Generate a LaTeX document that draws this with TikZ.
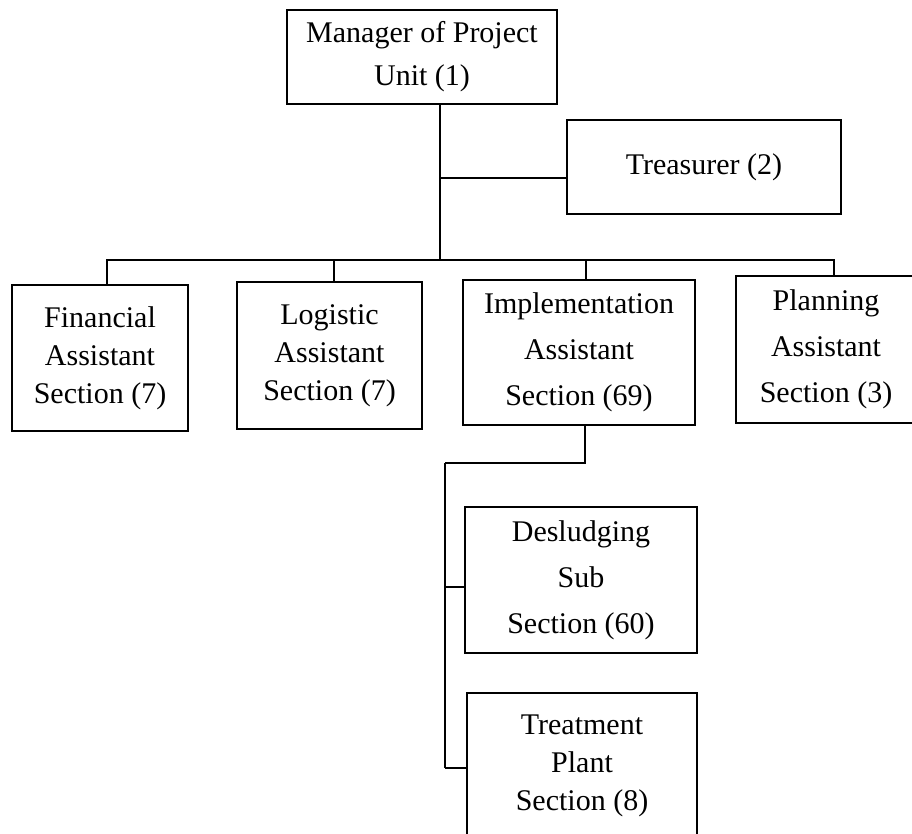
\documentclass[tikz,border=0pt]{standalone}
\usepackage{fontspec}
\setmainfont{Liberation Serif}
\begin{document}
\begin{tikzpicture}[x=1pt,y=-1pt,
  unit/.style={draw, line width=1.3pt, inner sep=0pt, align=center,
    font=\fontsize{30}{38}\selectfont},
  roomy/.style={font=\fontsize{30}{46}\selectfont},
  link/.style={line width=1.3pt},
  trunk/.style={line width=2.2pt}]
\clip (0,0) rectangle (912,833);
\fill[white] (0,0) rectangle (912,833);

% head of the unit and treasurer
\node[unit, minimum width=270pt, minimum height=94pt,
  font=\fontsize{30}{43}\selectfont] (mgr) at (422,57) {Manager of Project\\Unit (1)};
\node[unit, minimum width=274pt, minimum height=94pt] (treas) at (704,167) {Treasurer (2)};

% assistant sections
\node[unit, minimum width=176pt, minimum height=146pt] (fin) at (100,358)
  {Financial\\Assistant\\Section (7)};
\node[unit, minimum width=185pt, minimum height=147pt] (log) at (329.5,355.5)
  {Logistic\\Assistant\\Section (7)};
\node[unit, roomy, minimum width=232pt, minimum height=145pt] (impl) at (579,352.5)
  {Implementation\\Assistant\\Section (69)};
\node[unit, roomy, minimum width=180pt, minimum height=147pt] (plan) at (826,349.5)
  {Planning\\Assistant\\Section (3)};

% sub sections under implementation
\node[unit, roomy, minimum width=232pt, minimum height=146pt] (des) at (581,580)
  {Desludging\\Sub\\Section (60)};
\node[unit, minimum width=230pt, minimum height=146pt] (treat) at (582,766)
  {Treatment\\Plant\\Section (8)};

% junction points
\coordinate (bus) at (440,260);
\coordinate (tj) at (440,178);
\coordinate (sub) at (445,463);
\coordinate (subD) at (445,587);
\coordinate (subT) at (445,768);

% connectors
\draw[trunk] (mgr.south -| bus) -- (bus);
\draw[link] (tj) -- (tj -| treas.west);
\draw[link] ([xshift=7pt]fin.north) -- ([xshift=7pt]fin.north |- bus)
  -| ([xshift=8pt]plan.north);
\draw[link] ([xshift=4.5pt]log.north) -- ([xshift=4.5pt]log.north |- bus);
\draw[link] ([xshift=7pt]impl.north) -- ([xshift=7pt]impl.north |- bus);
\draw[link] ([xshift=6pt]impl.south) |- (sub);
\draw[trunk] (sub) -- (subT);
\draw[link] (subT) -- (subT -| treat.west);
\draw[link] (subD) -- (subD -| des.west);
\end{tikzpicture}
\end{document}
